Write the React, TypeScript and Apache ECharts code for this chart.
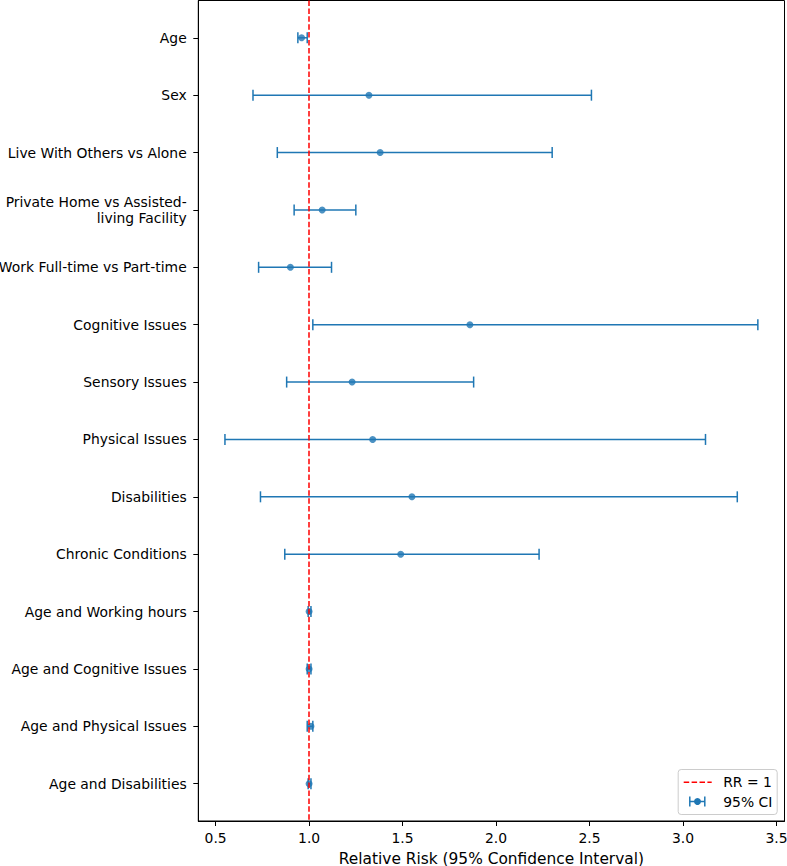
import React, { useEffect, useRef } from "react";
import * as echarts from "echarts";

// Predictors, top to bottom
const labels = [
  "Age",
  "Sex",
  "Live With Others vs Alone",
  "Private Home vs Assisted-\nliving Facility",
  "Work Full-time vs Part-time",
  "Cognitive Issues",
  "Sensory Issues",
  "Physical Issues",
  "Disabilities",
  "Chronic Conditions",
  "Age and Working hours",
  "Age and Cognitive Issues",
  "Age and Physical Issues",
  "Age and Disabilities",
];

// Relative risk point estimates
const rr = [0.96, 1.32, 1.38, 1.07, 0.9, 1.86, 1.23, 1.34, 1.55, 1.49, 1.0, 1.0, 1.01, 1.0];
// Lower bounds of the 95% confidence intervals
const lower = [0.94, 0.7, 0.83, 0.92, 0.73, 1.02, 0.88, 0.55, 0.74, 0.87, 0.995, 0.99, 0.99, 0.995];
// Upper bounds of the 95% confidence intervals
const upper = [0.99, 2.51, 2.3, 1.25, 1.12, 3.4, 1.88, 3.12, 3.29, 2.23, 1.01, 1.01, 1.02, 1.01];

// X-axis tick values
const xTicks = [0.5, 1.0, 1.5, 2.0, 2.5, 3.0, 3.5];

const BLUE = "#1f77b4";
const FONT = "DejaVu Sans";
const FS = 13.9;

export default function App() {
  const ref = useRef<HTMLDivElement>(null);

  useEffect(() => {
    if (!ref.current) return;
    const chart = echarts.init(ref.current, null, { renderer: "svg" });

    // 5% padding around the data range on both axes
    const lo = Math.min(...lower);
    const hi = Math.max(...upper);
    const padX = (hi - lo) * 0.05;
    const n = labels.length;
    const padY = (n - 1) * 0.05;
    const yIdx = labels.map((_, i) => i);

    const dash = [5.5, 2.4];

    chart.setOption({
      animation: false,
      grid: {
        left: 198.3,
        right: 2.5,
        top: 0.5,
        bottom: 45,
        outerBoundsMode: "none",
        containLabel: false,
        show: true,
        borderColor: "#000",
        borderWidth: 1,
      },
      xAxis: {
        type: "value",
        min: lo - padX,
        max: hi + padX,
        name: "Relative Risk (95% Confidence Interval)",
        nameLocation: "middle",
        nameGap: 30,
        nameTextStyle: { fontFamily: FONT, fontSize: 15.4, color: "#000", verticalAlign: "top" },
        axisLine: { show: true, onZero: false, lineStyle: { color: "#000", width: 1 } },
        axisTick: { show: true, length: 5, lineStyle: { color: "#000", width: 1 }, customValues: xTicks },
        axisLabel: {
          customValues: xTicks,
          margin: 10,
          fontFamily: FONT,
          fontSize: FS,
          color: "#000",
          formatter: (v: number) => v.toFixed(1),
        },
        splitLine: { show: false },
      },
      yAxis: {
        type: "value",
        inverse: true,
        min: -padY,
        max: n - 1 + padY,
        axisLine: { show: true, onZero: false, lineStyle: { color: "#000", width: 1 } },
        axisTick: { show: true, length: 5, lineStyle: { color: "#000", width: 1 }, customValues: yIdx },
        axisLabel: {
          customValues: yIdx,
          margin: 11.6,
          fontFamily: FONT,
          fontSize: FS,
          lineHeight: 16,
          color: "#000",
          align: "right",
          formatter: (v: number) => labels[Math.round(v)] ?? "",
        },
        splitLine: { show: false },
      },
      series: [
        {
          type: "custom",
          name: "95% CI",
          z: 2,
          data: labels.map((_, i) => [lower[i], upper[i], i]),
          encode: { x: [0, 1], y: 2 },
          renderItem: (_params: any, api: any) => {
            const a = api.coord([api.value(0), api.value(2)]);
            const b = api.coord([api.value(1), api.value(2)]);
            const h = 5.5;
            const style = { stroke: BLUE, lineWidth: 1.5 };
            return {
              type: "group",
              children: [
                { type: "line", shape: { x1: a[0], y1: a[1], x2: b[0], y2: b[1] }, style },
                { type: "line", shape: { x1: a[0], y1: a[1] - h, x2: a[0], y2: a[1] + h }, style },
                { type: "line", shape: { x1: b[0], y1: b[1] - h, x2: b[0], y2: b[1] + h }, style },
              ],
            };
          },
        },
        {
          type: "scatter",
          name: "RR",
          z: 3,
          symbol: "circle",
          symbolSize: 7,
          itemStyle: { color: BLUE },
          data: rr.map((v, i) => [v, i]),
        },
        {
          type: "line",
          name: "RR = 1",
          z: 4,
          data: [],
          markLine: {
            silent: true,
            symbol: "none",
            label: { show: false },
            lineStyle: { color: "#ff0000", width: 1.5, type: dash },
            data: [{ xAxis: 1 }],
          },
        },
      ],
      graphic: [
        {
          type: "group",
          left: 677.7,
          top: 769,
          z: 100,
          children: [
            {
              type: "rect",
              shape: { x: 0, y: 0, width: 99, height: 45, r: 3 },
              style: { fill: "rgba(255,255,255,0.8)", stroke: "#cccccc", lineWidth: 1 },
            },
            {
              type: "line",
              shape: { x1: 5.5, y1: 12.7, x2: 33.5, y2: 12.7 },
              style: { stroke: "#ff0000", lineWidth: 1.5, lineDash: dash },
            },
            {
              type: "line",
              shape: { x1: 11.6, y1: 32, x2: 26.6, y2: 32 },
              style: { stroke: BLUE, lineWidth: 1.5 },
            },
            {
              type: "line",
              shape: { x1: 11.6, y1: 27, x2: 11.6, y2: 37 },
              style: { stroke: BLUE, lineWidth: 1.5 },
            },
            {
              type: "line",
              shape: { x1: 26.6, y1: 27, x2: 26.6, y2: 37 },
              style: { stroke: BLUE, lineWidth: 1.5 },
            },
            {
              type: "circle",
              shape: { cx: 19.3, cy: 32, r: 3.5 },
              style: { fill: BLUE },
            },
            {
              type: "text",
              x: 45,
              y: 12.7,
              style: { text: "RR = 1", fontFamily: FONT, fontSize: FS, fill: "#000", verticalAlign: "middle" },
            },
            {
              type: "text",
              x: 45,
              y: 32,
              style: { text: "95% CI", fontFamily: FONT, fontSize: FS, fill: "#000", verticalAlign: "middle" },
            },
          ],
        },
      ],
    });

    return () => chart.dispose();
  }, []);

  return (
    <div
      ref={ref}
      style={{ position: "fixed", left: 0, top: 0, width: 787, height: 866, background: "#fff" }}
    />
  );
}
